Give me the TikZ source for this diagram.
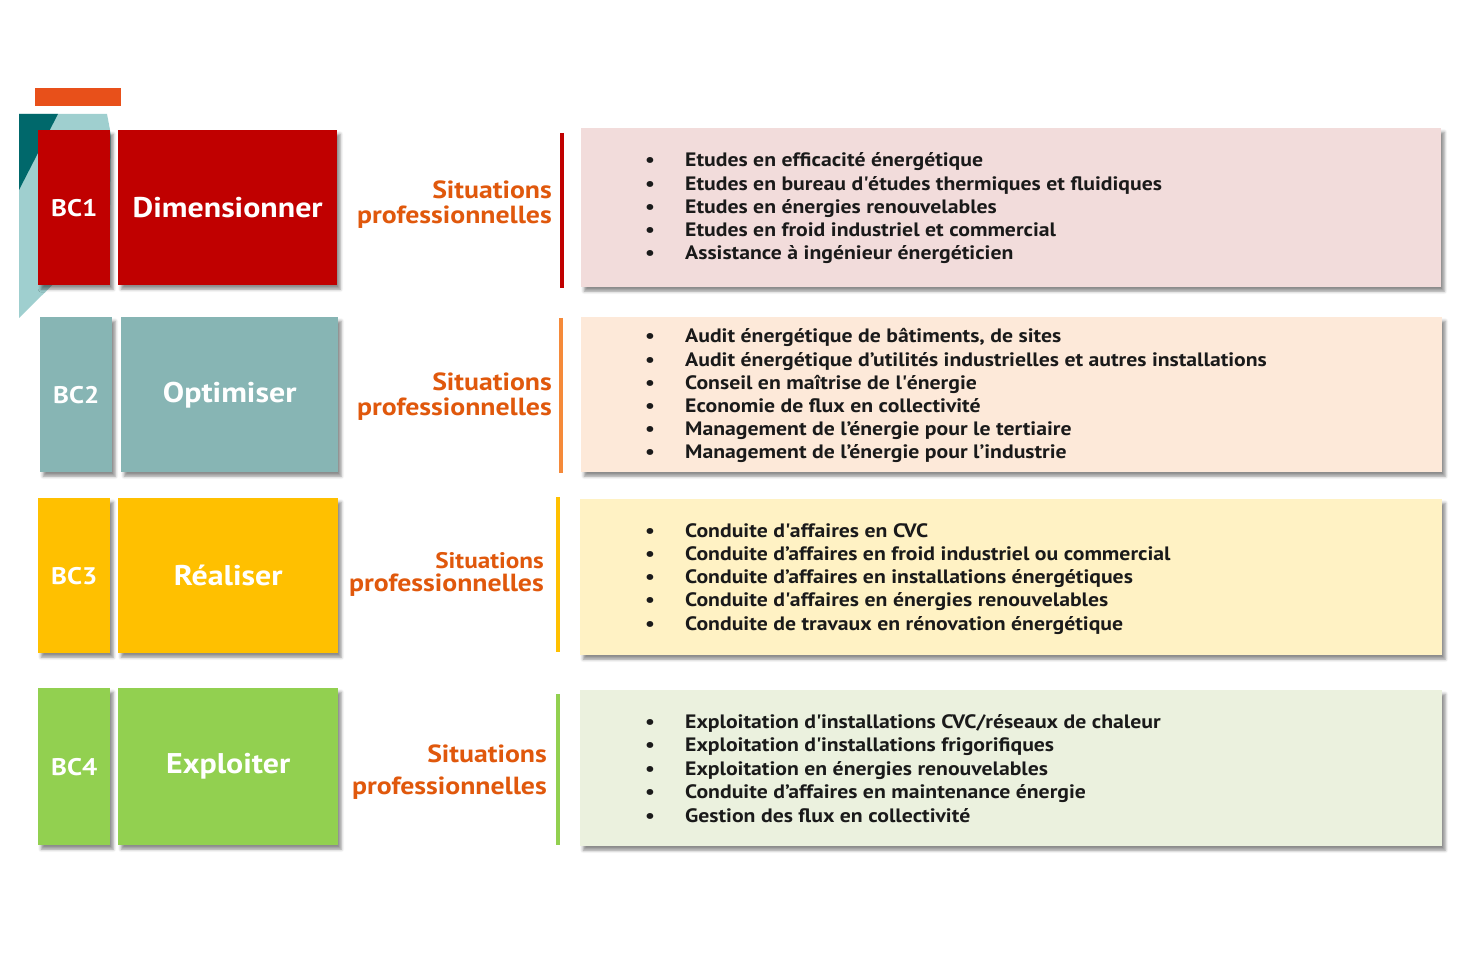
\documentclass[tikz,border=0pt]{standalone}
\usepackage{fontspec}
\setmainfont{PT Sans}[FakeStretch=1.12]
\usetikzlibrary{shadows.blur}
\newcommand\sq{\textquotesingle}
\definecolor{orbar}{HTML}{E8501A}
\definecolor{dteal}{HTML}{00686B}
\definecolor{lteal}{HTML}{9FCFCF}
\definecolor{cred}{HTML}{C00000}
\definecolor{cteal}{HTML}{87B5B4}
\definecolor{cyel}{HTML}{FFC000}
\definecolor{cgrn}{HTML}{92D050}
\definecolor{sit}{HTML}{E0580C}
\definecolor{vl2}{HTML}{F58A3A}
\definecolor{pa}{HTML}{F2DCDB}
\definecolor{pb}{HTML}{FDE9D9}
\definecolor{pc}{HTML}{FFF2C4}
\definecolor{pd}{HTML}{EBF1DE}
\definecolor{txt}{HTML}{1A1A1A}
\begin{document}
\begin{tikzpicture}[x=1pt,y=-1pt,
  shad/.style={blur shadow={shadow xshift=3pt,shadow yshift=-4pt,shadow blur radius=3pt,shadow opacity=45}},
  box/.style={shad,draw=none,inner sep=0pt,minimum height=155pt,anchor=north west,text=white,font=\bfseries\fontsize{28.5}{31}\selectfont},
  code/.style={box,minimum width=72pt,font=\bfseries\fontsize{24}{25}\selectfont},
  panel/.style={shad,draw=none,inner sep=0pt,anchor=north west,minimum width=860pt},
  sitlab/.style={anchor=east,align=right,text=sit,inner sep=0pt},
  item/.style={anchor=base west,inner sep=0pt,text=txt,font=\bfseries\fontsize{19.4}{20}\selectfont},
  vline/.style={line width=3.5pt}
]
\useasboundingbox (0,0) rectangle (1460,973);
% decoration
\fill[orbar] (35,88) rectangle (121,106);
\fill[lteal] (19,114) -- (107,114) -- (111,135) -- (110,228) -- (19,318) -- cycle;
\fill[dteal] (19,114) -- (58,114) -- (19,190) -- cycle;
% left boxes
\node[code,fill=cred] (bc1) at (38,130) {BC1};
\node[box,fill=cred,minimum width=219pt] (n1) at (118,130) {Dimensionner};
\node[code,fill=cteal] (bc2) at (40,317) {BC2};
\node[box,fill=cteal,minimum width=217pt] (n2) at (121,317) {Optimiser};
\node[code,fill=cyel] (bc3) at (38,498) {BC3};
\node[box,fill=cyel,minimum width=220pt] (n3) at (118,498) {Réaliser};
\node[code,fill=cgrn,minimum height=157pt] (bc4) at (38,688) {BC4};
\node[box,fill=cgrn,minimum width=220pt,minimum height=157pt] (n4) at (118,688) {Exploiter};
% situations
\node[sitlab,font=\bfseries\fontsize{24.8}{25}\selectfont] (s1) at (552,205) {Situations\\professionnelles};
\node[sitlab,font=\bfseries\fontsize{24.8}{25}\selectfont] (s2) at (552,397) {Situations\\professionnelles};
\node[sitlab,font=\bfseries\fontsize{24.8}{23}\selectfont] (s3) at (544,574) {{\fontsize{22.5}{23}\selectfont Situations}\\professionnelles};
\node[sitlab,font=\bfseries\fontsize{24.8}{32}\selectfont] (s4) at (547,772) {Situations\\professionnelles};
% vertical lines
\draw[vline,cred] (562,133) -- (562,288);
\draw[vline,vl2] (561,318) -- (561,473);
\draw[vline,cyel] (558,497) -- (558,652);
\draw[vline,cgrn] (558,694) -- (558,845);
% panels
\node[panel,fill=pa,minimum height=159pt] (p1) at (581,128) {};
\node[panel,fill=pb,minimum height=155pt,minimum width=861pt] (p2) at (581,317) {};
\node[panel,fill=pc,minimum height=156pt,minimum width=862pt] (p3) at (580,499) {};
\node[panel,fill=pd,minimum height=156pt,minimum width=862pt] (p4) at (580,690) {};
% items
\foreach \t [count=\i, evaluate=\i as \yy using 167+(\i-1)*23.25] in {%
  Etudes en efficacité énergétique,
  Etudes en bureau d\sq études thermiques et fluidiques,
  Etudes en énergies renouvelables,
  Etudes en froid industriel et commercial,
  Assistance à ingénieur énergéticien}
  {\node[item] (a\i) at (645,\yy) {\makebox[40pt][l]{\textbullet}\t};}
\foreach \t [count=\i, evaluate=\i as \yy using 343+(\i-1)*23.2] in {%
  Audit énergétique de bâtiments{,} de sites,
  Audit énergétique d’utilités industrielles et autres installations,
  Conseil en maîtrise de l\sq énergie,
  Economie de flux en collectivité,
  Management de l’énergie pour le tertiaire,
  Management de l’énergie pour l’industrie}
  {\node[item] (b\i) at (645,\yy) {\makebox[40pt][l]{\textbullet}\t};}
\foreach \t [count=\i, evaluate=\i as \yy using 537+(\i-1)*23.25] in {%
  Conduite d\sq affaires en CVC,
  Conduite d’affaires en froid industriel ou commercial,
  Conduite d’affaires en installations énergétiques,
  Conduite d\sq affaires en énergies renouvelables,
  Conduite de travaux en rénovation énergétique}
  {\node[item] (c\i) at (645,\yy) {\makebox[40pt][l]{\textbullet}\t};}
\foreach \t [count=\i, evaluate=\i as \yy using 728+(\i-1)*23.5] in {%
  Exploitation d\sq installations CVC/réseaux de chaleur,
  Exploitation d\sq installations frigorifiques,
  Exploitation en énergies renouvelables,
  Conduite d’affaires en maintenance énergie,
  Gestion des flux en collectivité}
  {\node[item] (d\i) at (645,\yy) {\makebox[40pt][l]{\textbullet}\t};}
\end{tikzpicture}
\end{document}
